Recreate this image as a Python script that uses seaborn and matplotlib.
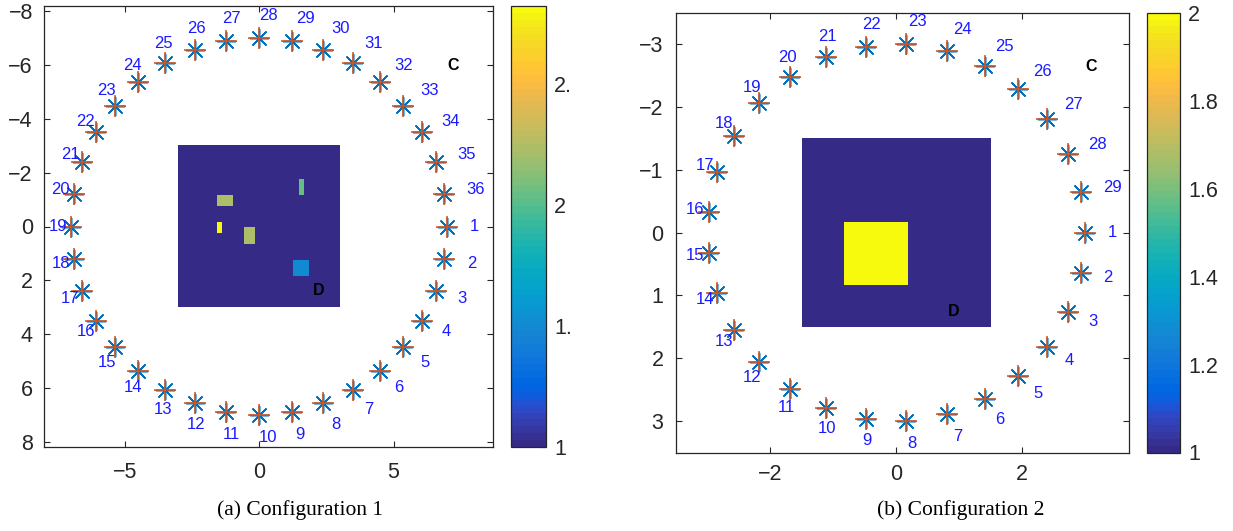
import numpy as np
import matplotlib
matplotlib.use("Agg")
import matplotlib.pyplot as plt
import seaborn as sns
from matplotlib.colors import ListedColormap

# ---------------- data ----------------
ring1_radius = 7.0
ring1_angles_deg = [0, 10, 20, 30, 40, 50, 60, 70, 80, 90, 100, 110, 120, 130, 140, 150, 160, 170,
                    180, 190, 200, 210, 220, 230, 240, 250, 260, 270, 280, 290, 300, 310, 320, 330, 340, 350]
ring1_ids = list(range(1, 37))

ring2_radius = 3.0
ring2_angles_deg = [0.0, 12.4, 24.8, 37.2, 49.7, 62.1, 74.5, 86.9, 99.3, 111.7, 124.1, 136.6, 149.0,
                    161.4, 173.8, 186.2, 198.6, 211.0, 223.4, 235.9, 248.3, 260.7, 273.1, 285.5,
                    297.9, 310.3, 322.8, 335.2, 347.6]
ring2_ids = list(range(1, 30))

# image region (x0, x1, y0, y1) and background value
grid1_extent = (-3.0, 3.0, -3.0, 3.0)
grid1_background = 1.0
grid1_patch_x0 = [1.49, -1.56, -1.56, -0.56, 1.26]
grid1_patch_x1 = [1.67, -0.97, -1.38, -0.15, 1.86]
grid1_patch_y0 = [-1.74, -1.15, -0.15, 0.04, 1.26]
grid1_patch_y1 = [-1.15, -0.74, 0.26, 0.67, 1.85]
grid1_patch_val = [2.05, 2.25, 2.82, 2.25, 1.5]
grid1_clim = (1.0, 2.82)

grid2_extent = (-1.5, 1.5, -1.5, 1.5)
grid2_background = 1.0
grid2_patch_x0 = [-0.83]
grid2_patch_x1 = [0.19]
grid2_patch_y0 = [-0.17]
grid2_patch_y1 = [0.84]
grid2_patch_val = [2.0]
grid2_clim = (1.0, 2.0)

cbar1_ticks = [1.0, 1.5, 2.0, 2.5]
cbar1_labels = ["1", "1.", "2", "2."]
cbar2_ticks = [1.0, 1.2, 1.4, 1.6, 1.8, 2.0]
cbar2_labels = ["1", "1.2", "1.4", "1.6", "1.8", "2"]

ax1_xticks = [-5, 0, 5]
ax1_yticks = [-8, -6, -4, -2, 0, 2, 4, 6, 8]
ax2_xticks = [-2, 0, 2]
ax2_yticks = [-3, -2, -1, 0, 1, 2, 3]

label1_C = (7.23, -6.0)
label1_D = (2.21, 2.39)
label2_C = (3.1, -2.65)
label2_D = (0.92, 1.26)

caption1 = "(a) Configuration 1"
caption2 = "(b) Configuration 2"

# ---------------- style ----------------
parula = ListedColormap([
    [0.2081, 0.1663, 0.5292], [0.2116, 0.1898, 0.5777], [0.2123, 0.2138, 0.6270], [0.2081, 0.2386, 0.6771],
    [0.1959, 0.2645, 0.7279], [0.1707, 0.2919, 0.7792], [0.1253, 0.3242, 0.8303], [0.0591, 0.3598, 0.8683],
    [0.0117, 0.3875, 0.8820], [0.0060, 0.4086, 0.8828], [0.0165, 0.4266, 0.8786], [0.0329, 0.4430, 0.8720],
    [0.0498, 0.4586, 0.8641], [0.0629, 0.4737, 0.8554], [0.0723, 0.4887, 0.8467], [0.0779, 0.5040, 0.8384],
    [0.0793, 0.5200, 0.8312], [0.0749, 0.5375, 0.8263], [0.0641, 0.5570, 0.8240], [0.0488, 0.5772, 0.8228],
    [0.0343, 0.5966, 0.8199], [0.0265, 0.6137, 0.8135], [0.0239, 0.6287, 0.8038], [0.0231, 0.6418, 0.7913],
    [0.0228, 0.6535, 0.7768], [0.0267, 0.6642, 0.7607], [0.0384, 0.6743, 0.7436], [0.0590, 0.6838, 0.7254],
    [0.0843, 0.6928, 0.7062], [0.1133, 0.7015, 0.6859], [0.1453, 0.7098, 0.6646], [0.1801, 0.7177, 0.6424],
    [0.2178, 0.7250, 0.6193], [0.2586, 0.7317, 0.5954], [0.3022, 0.7376, 0.5712], [0.3482, 0.7424, 0.5473],
    [0.3953, 0.7459, 0.5244], [0.4420, 0.7481, 0.5033], [0.4871, 0.7491, 0.4840], [0.5300, 0.7491, 0.4661],
    [0.5709, 0.7485, 0.4494], [0.6099, 0.7473, 0.4337], [0.6473, 0.7456, 0.4188], [0.6834, 0.7435, 0.4044],
    [0.7184, 0.7411, 0.3905], [0.7525, 0.7384, 0.3768], [0.7858, 0.7356, 0.3633], [0.8185, 0.7327, 0.3498],
    [0.8507, 0.7299, 0.3360], [0.8824, 0.7274, 0.3217], [0.9139, 0.7258, 0.3063], [0.9450, 0.7261, 0.2886],
    [0.9739, 0.7314, 0.2666], [0.9938, 0.7455, 0.2403], [0.9990, 0.7653, 0.2164], [0.9955, 0.7861, 0.1967],
    [0.9880, 0.8066, 0.1794], [0.9789, 0.8271, 0.1633], [0.9697, 0.8481, 0.1475], [0.9626, 0.8705, 0.1309],
    [0.9589, 0.8949, 0.1132], [0.9598, 0.9218, 0.0948], [0.9661, 0.9514, 0.0755], [0.9763, 0.9831, 0.0538],
], name="parula")

sns.set_theme(style="white")
plt.rcParams["font.family"] = ["Liberation Sans", "DejaVu Sans"]
plt.rcParams["axes.unicode_minus"] = True

SPINE = "#262626"
BLUE = "#0072BD"
ORANGE = "#D95319"
W, H = 1233, 531

fig = plt.figure(figsize=(W / 100, H / 100), dpi=100)
fig.patch.set_facecolor("white")


def px_rect(x0, x1, y_top, y_bot):
    return [x0 / W, 1 - y_bot / H, (x1 - x0) / W, (y_bot - y_top) / H]


def build_grid(extent, bg, xs0, xs1, ys0, ys1, vals, res=0.01):
    x0, x1, y0, y1 = extent
    nx = int(round((x1 - x0) / res))
    ny = int(round((y1 - y0) / res))
    xc = x0 + (np.arange(nx) + 0.5) * res
    yc = y0 + (np.arange(ny) + 0.5) * res
    arr = np.full((ny, nx), bg, dtype=float)
    for a, b, c, d, v in zip(xs0, xs1, ys0, ys1, vals):
        mx = (xc >= a) & (xc <= b)
        my = (yc >= c) & (yc <= d)
        arr[np.ix_(my, mx)] = v
    return arr


def draw_panel(ax, cax, radius, angles, ids, extent, bg, px0, px1, py0, py1, pv, clim,
               xlim, ylim, xticks, yticks, cticks, clabels, labC, labD, xpad, ypad):
    arr = build_grid(extent, bg, px0, px1, py0, py1, pv)
    x0, x1, y0, y1 = extent
    im = ax.imshow(arr, cmap=parula, vmin=clim[0], vmax=clim[1], extent=(x0, x1, y1, y0),
                   origin="upper", aspect="auto", interpolation="nearest", zorder=1)
    th = np.deg2rad(np.asarray(angles))
    xs = radius * np.cos(th)
    ys = radius * np.sin(th)
    sns.scatterplot(x=xs, y=ys, ax=ax, marker=(8, 2, 0), s=175, color=BLUE,
                    linewidth=1.1, legend=False, zorder=3)
    sns.scatterplot(x=xs, y=ys, ax=ax, marker="+", s=256, color=ORANGE,
                    linewidth=1.1, legend=False, zorder=4)
    lr = radius * 1.12
    for t, k in zip(th, ids):
        ax.text(lr * np.cos(t), lr * np.sin(t), str(k), color="#1a1aff", fontsize=12,
                ha="left", va="center", zorder=5)
    ax.text(labC[0], labC[1], "C", color="black", fontsize=11.5, fontweight="bold",
            ha="center", va="center", zorder=5)
    ax.text(labD[0], labD[1], "D", color="black", fontsize=11.5, fontweight="bold",
            ha="center", va="center", zorder=5)
    ax.set_xlim(*xlim)
    ax.set_ylim(*ylim)
    ax.set_xticks(xticks)
    ax.set_yticks(yticks)
    ax.set_xlabel("")
    ax.set_ylabel("")
    ax.tick_params(direction="in", length=4, width=0.8, colors=SPINE, labelsize=15.5,
                   top=True, right=True, bottom=True, left=True)
    ax.tick_params(axis="x", pad=xpad)
    ax.tick_params(axis="y", pad=ypad)
    for sp in ax.spines.values():
        sp.set_color(SPINE)
        sp.set_linewidth(0.9)
        sp.set_visible(True)
    ax.set_facecolor("white")
    ax.grid(False)

    cb = fig.colorbar(im, cax=cax)
    cb.set_ticks(cticks)
    cb.set_ticklabels(clabels)
    cb.outline.set_edgecolor(SPINE)
    cb.outline.set_linewidth(0.9)
    cax.tick_params(direction="in", length=4, width=0.8, colors=SPINE, labelsize=15.5,
                    right=True, left=False, pad=6)


ax1 = fig.add_axes(px_rect(44, 493, 6, 447))
cax1 = fig.add_axes(px_rect(511, 546, 6, 447))
ax2 = fig.add_axes(px_rect(676, 1129, 12.7, 452.5))
cax2 = fig.add_axes(px_rect(1147, 1180, 12.7, 452.5))

draw_panel(ax1, cax1, ring1_radius, ring1_angles_deg, ring1_ids, grid1_extent, grid1_background,
           grid1_patch_x0, grid1_patch_x1, grid1_patch_y0, grid1_patch_y1, grid1_patch_val, grid1_clim,
           (-8.0, 8.7), (8.2, -8.2), ax1_xticks, ax1_yticks, cbar1_ticks, cbar1_labels,
           label1_C, label1_D, xpad=11, ypad=8)
draw_panel(ax2, cax2, ring2_radius, ring2_angles_deg, ring2_ids, grid2_extent, grid2_background,
           grid2_patch_x0, grid2_patch_x1, grid2_patch_y0, grid2_patch_y1, grid2_patch_val, grid2_clim,
           (-3.5, 3.7), (3.5, -3.5), ax2_xticks, ax2_yticks, cbar2_ticks, cbar2_labels,
           label2_C, label2_D, xpad=8.5, ypad=9)

fig.text(300 / W, 1 - 510 / H, caption1, ha="center", va="center",
         family=["Liberation Serif", "DejaVu Serif"], fontsize=15.5, color="black")
fig.text(961 / W, 1 - 510 / H, caption2, ha="center", va="center",
         family=["Liberation Serif", "DejaVu Serif"], fontsize=15.5, color="black")

fig.savefig("out.png", dpi=100, facecolor="white")
